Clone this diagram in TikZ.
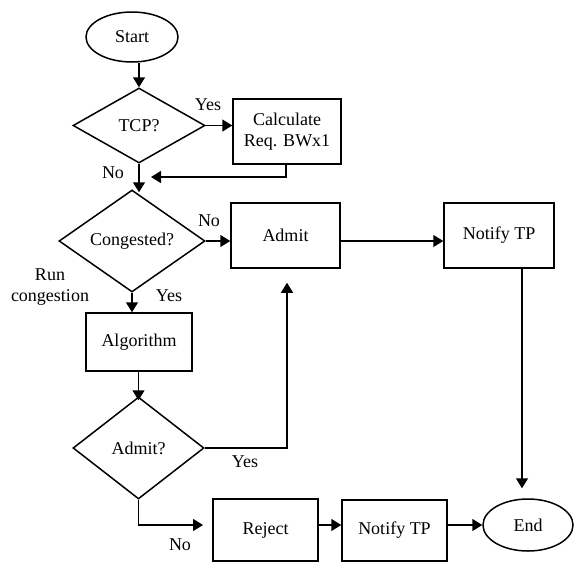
\documentclass[tikz,border=0pt]{standalone}
\usepackage{fontspec}
\setmainfont{Liberation Serif}
\usetikzlibrary{shapes.geometric,arrows.meta}
\begin{document}
\begin{tikzpicture}[x=1pt,y=-1pt,
 every node/.style={font=\fontsize{18}{21.5}\selectfont},
 arr/.style={line width=1.5pt,-{Triangle[length=10pt,width=12pt]}},
 term/.style={ellipse,draw,line width=1.5pt,inner sep=0pt},
 box/.style={rectangle,draw,line width=1.5pt,inner sep=0pt,align=center},
 dec/.style={diamond,draw,line width=1.5pt,inner sep=0pt,aspect=1.4},
 lbl/.style={inner sep=0pt,align=center}]
\useasboundingbox (0,0) rectangle (576,563);
% nodes
\node[term,minimum width=92pt,minimum height=50pt] (start) at (132,37) {Start};
\node[dec,minimum width=132pt,minimum height=75pt] (tcp) at (139,125.5) {TCP?};
\node[box,minimum width=108pt,minimum height=65pt] (calc) at (287,131.5) {Calculate\\Req. BWx1};
\node[dec,minimum width=146pt,minimum height=102pt] (cong) at (132,241) {Congested?};
\node[box,minimum width=109pt,minimum height=65pt] (admit) at (285.5,235.5) {Admit};
\node[box,minimum width=110pt,minimum height=65pt] (notifya) at (499,235.5) {Notify TP};
\node[box,minimum width=106pt,minimum height=58pt] (alg) at (139,342) {Algorithm};
\node[dec,minimum width=131pt,minimum height=102pt] (admq) at (138.5,448) {Admit?};
\node[box,minimum width=105pt,minimum height=62pt] (reject) at (265.5,530) {Reject};
\node[box,minimum width=105pt,minimum height=61pt] (notifyb) at (394.5,530.5) {Notify TP};
\node[term,minimum width=90pt,minimum height=52pt] (end) at (528,525) {End};
% labels
\node[lbl] (yes1) at (208,105) {Yes};
\node[lbl] (no1) at (113,173) {No};
\node[lbl] (no2) at (209,221) {No};
\node[lbl] (run) at (50,287) {Run\\congestion};
\node[lbl] (yes2) at (169,296) {Yes};
\node[lbl] (yes3) at (245,462) {Yes};
\node[lbl] (no3) at (180,545) {No};
% helper coordinates
\coordinate (j1) at (151,177);
\coordinate (j2) at (203,525);
% connectors
\draw[arr] (start.south -| tcp.north) -- (tcp.north);
\draw[arr] (tcp.east) -- (calc.west |- tcp.east);
\draw[arr] (tcp.south) -- ([yshift=-3pt]tcp.south |- cong.north);
\draw[arr] ([xshift=-1pt]calc.south) |- (j1);
\draw[arr] (cong.east) -- (admit.west |- cong.east);
\draw[arr] (admit.east |- cong.east) -- (notifya.west |- cong.east);
\draw[arr] (cong.south) -- (cong.south |- alg.north);
\draw[arr] (alg.south -| admq.north) -- ([yshift=-4pt]admq.north);
\draw[arr,shorten >=14pt] (admq.east) -| ([xshift=1.5pt]admit.south);
\draw[arr] (admq.south) |- (j2);
\draw[arr] (reject.east |- j2) -- (notifyb.west |- j2);
\draw[arr] (notifyb.east |- j2) -- (end.west);
\draw[arr,shorten >=10pt] ([xshift=23pt]notifya.south) -- ([xshift=23pt]notifya.south |- end.north);
\end{tikzpicture}
\end{document}
